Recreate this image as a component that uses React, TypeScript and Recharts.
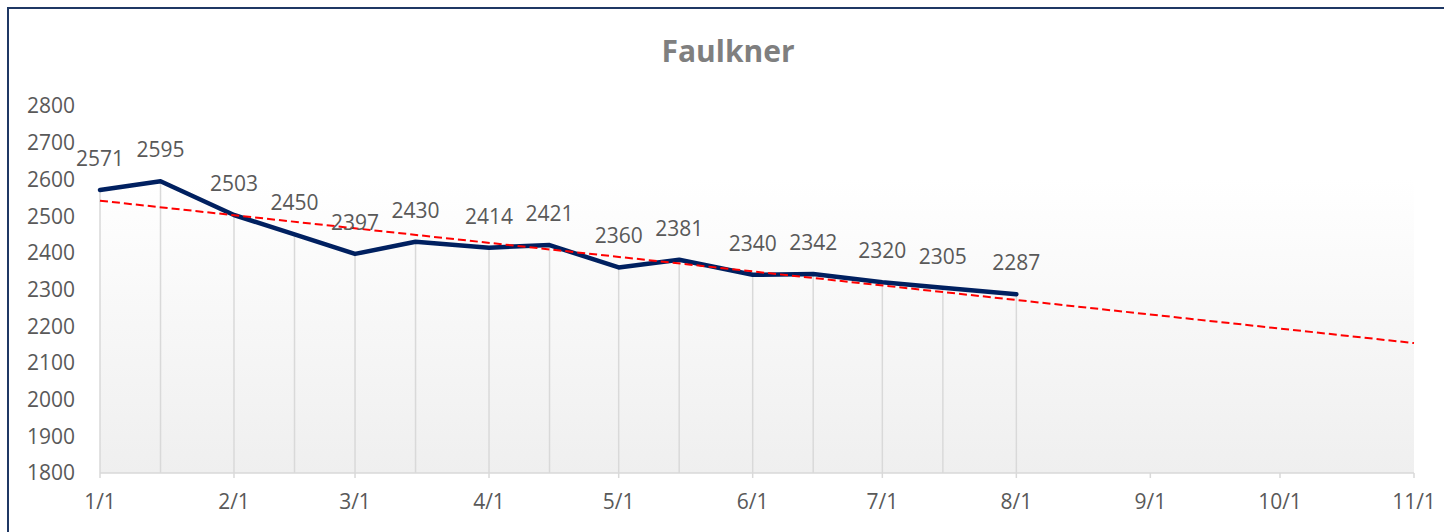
import {
  ComposedChart,
  Line,
  XAxis,
  YAxis,
  CartesianGrid,
  ReferenceLine,
  LabelList,
} from "recharts";

// observation dates (M/D) and values
const dates = [
  "1/1", "1/15", "2/1", "2/15", "3/1", "3/15", "4/1", "4/15",
  "5/1", "5/15", "6/1", "6/15", "7/1", "7/15", "8/1",
];
const values = [
  2571, 2595, 2503, 2450, 2397, 2430, 2414, 2421,
  2360, 2381, 2340, 2342, 2320, 2305, 2287,
];
// linear trend line, read at its two ends (1/1 and 11/1)
const trendDates = ["1/1", "11/1"];
const trendValues = [2542, 2154];

const monthTicks = ["1/1", "2/1", "3/1", "4/1", "5/1", "6/1", "7/1", "8/1", "9/1", "10/1", "11/1"];
const yTicks = [1800, 1900, 2000, 2100, 2200, 2300, 2400, 2500, 2600, 2700, 2800];

const FONT = "'Open Sans', 'Liberation Sans', sans-serif";
const TEXT = "#595959";
const NAVY = "#002060";
const GRID = "#d9d9d9";
const FS = 21;

// day offset from 1/1 of a non-leap year
const dayOf = (md: string) => {
  const [m, d] = md.split("/").map(Number);
  return (Date.UTC(2021, m - 1, d) - Date.UTC(2021, 0, 1)) / 86400000;
};

const rows = dates.map((d, i) => ({ t: dayOf(d), label: d, v: values[i] }));
const trendRows = trendDates.map((d, i) => ({ t: dayOf(d), trend: trendValues[i] }));
const tickDays = monthTicks.map(dayOf);
const tickLabel = (t: number) => monthTicks[tickDays.indexOf(t)] ?? "";

// y tick text, right edge kept at a fixed gap left of the plot
const YTick = (props: any) => {
  const { y, payload } = props;
  return (
    <text
      x={75}
      y={y}
      dy="0.355em"
      textAnchor="end"
      fill={TEXT}
      fontSize={FS}
      fontFamily={FONT}
    >
      {payload.value}
    </text>
  );
};

export default function App() {
  return (
    <div style={{ position: "absolute", left: 0, top: 0, width: 1444, height: 532, background: "#fff" }}>
      <div
        style={{
          position: "absolute",
          left: 7,
          top: 7,
          width: 1444,
          height: 532,
          borderTop: "2px solid #1f3864",
          borderLeft: "2px solid #1f3864",
        }}
      />
      <svg
        width={1444}
        height={100}
        style={{ position: "absolute", left: 0, top: 0, pointerEvents: "none" }}
      >
        <text
          x={728}
          y={62}
          textAnchor="middle"
          fontFamily={FONT}
          fontWeight="bold"
          fontSize={30}
          fill="#7f7f7f"
        >
          Faulkner
        </text>
      </svg>
      <div style={{ position: "absolute", left: 0, top: 0 }}>
        <ComposedChart
          width={1444}
          height={532}
          data={rows}
          margin={{ top: 106, right: 30, bottom: 19, left: 0 }}
        >
          <defs>
            <linearGradient id="plotBg" x1="0" y1="0" x2="0" y2="1">
              <stop offset="0%" stopColor="#ffffff" />
              <stop offset="20%" stopColor="#ffffff" />
              <stop offset="100%" stopColor="#efefef" />
            </linearGradient>
          </defs>
          <CartesianGrid horizontal={false} vertical={false} fill="url(#plotBg)" />
          <XAxis
            dataKey="t"
            type="number"
            domain={[0, tickDays[tickDays.length - 1]]}
            ticks={tickDays}
            tickFormatter={tickLabel}
            height={40}
            axisLine={{ stroke: GRID, strokeWidth: 1.5 }}
            tickLine={{ stroke: GRID, strokeWidth: 1.5 }}
            tickSize={5}
            tickMargin={16}
            tick={{ fill: TEXT, fontSize: FS, fontFamily: FONT }}
            interval={0}
          />
          <YAxis
            type="number"
            domain={[1800, 2800]}
            ticks={yTicks}
            width={100}
            axisLine={false}
            tickLine={false}
            tick={YTick}
            interval={0}
          />
          {rows.map((r) => (
            <ReferenceLine
              key={r.label}
              segment={[
                { x: r.t, y: 1800 },
                { x: r.t, y: r.v },
              ]}
              stroke={GRID}
              strokeWidth={1.5}
            />
          ))}
          <Line
            dataKey="v"
            type="linear"
            stroke={NAVY}
            strokeWidth={4.5}
            strokeLinejoin="round"
            strokeLinecap="round"
            dot={false}
            activeDot={false}
            isAnimationActive={false}
          >
            <LabelList
              dataKey="v"
              position="top"
              offset={24}
              fill={TEXT}
              fontSize={FS}
              fontFamily={FONT}
            />
          </Line>
          <Line
            data={trendRows}
            dataKey="trend"
            type="linear"
            stroke="#ff0000"
            strokeWidth={2}
            strokeDasharray="8 4"
            dot={false}
            activeDot={false}
            isAnimationActive={false}
          />
        </ComposedChart>
      </div>
    </div>
  );
}
